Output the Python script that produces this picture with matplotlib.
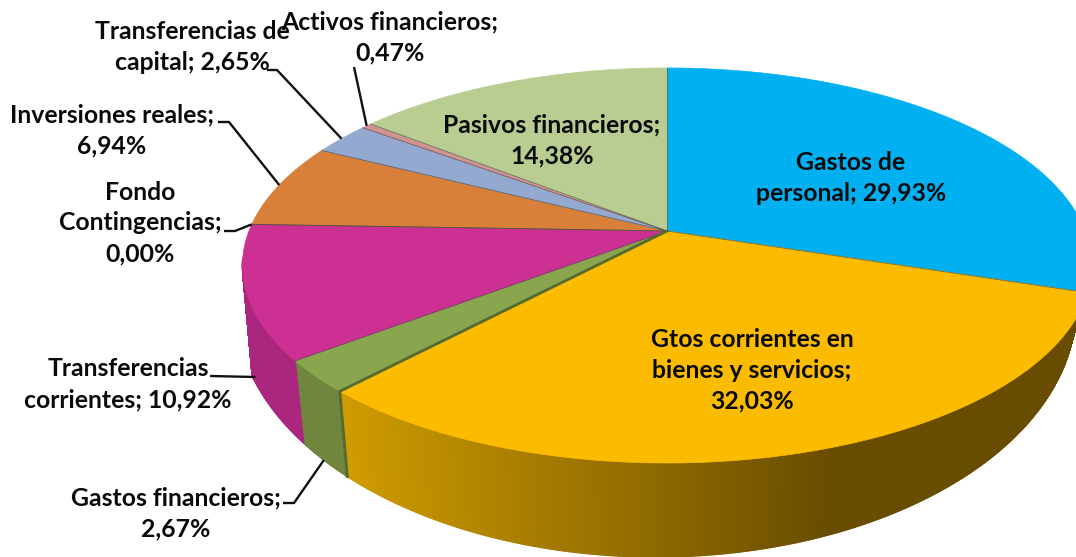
import numpy as np
import matplotlib
matplotlib.use('Agg')
import matplotlib.pyplot as plt
from matplotlib.collections import PolyCollection
from matplotlib.patches import Polygon

# clockwise from 12 o'clock
categories = ['Gastos de personal', 'Gtos corrientes en bienes y servicios', 'Gastos financieros',
              'Transferencias corrientes', 'Fondo Contingencias', 'Inversiones reales',
              'Transferencias de capital', 'Activos financieros', 'Pasivos financieros']
values = [29.93, 32.03, 2.67, 10.92, 0.00, 6.94, 2.65, 0.47, 14.38]
top_colors = ['#00b0f0', '#fbbc00', '#89a54e', '#cc3092', '#7f3f7f', '#d87f3a', '#93a9cf', '#d19392', '#b9cd92']
side_colors = ['#00789f', '#cc9900', '#70853e', '#ab267f', '#7f3f7f', '#a05f2a', '#6f80a0', '#a06f6f', '#8a9a6e']

label_lines = ['Gastos de\npersonal; 29,93%', 'Gtos corrientes en\nbienes y servicios;\n32,03%',
               'Gastos financieros;\n2,67%', 'Transferencias\ncorrientes; 10,92%',
               'Fondo\nContingencias;\n0,00%', 'Inversiones reales;\n6,94%',
               'Transferencias de\ncapital; 2,65%', 'Activos financieros;\n0,47%',
               'Pasivos financieros;\n14,38%']
label_x = [851, 752, 176, 128, 140, 112, 192, 390, 552]
label_y = [178, 370, 513, 384, 223, 130, 47, 37, 140]
# leader start points, and how far down the side wall the leader ends
leader_start = [None, None, [(283, 503), (294, 503)], [(210, 376)], [(224, 231), (235, 231)],
                [(218, 122), (229, 122)], [(267, 70), (277, 70)], [(354, 67)], None]
leader_depth = [0, 0, 1, 0.93, 0, 0, 0, 0, 0]

# pie geometry in pixels (perspective view of a disc)
CX, CY = 667, 231
A, B, K = 418, 191.5, 0.1746
# lower rim of the wall is its own ellipse
BOT_S = 0.977
BOT_CX, BOT_CY, BOT_RX, BOT_RY = 656, 307, 420, 250


def rim(deg):
    t = np.radians(deg)
    x, y = np.sin(t), np.cos(t)
    d = 1 + K * y
    return CX + A * x / d, CY - B * y / d


def rim_low(deg):
    x = CX + BOT_S * (rim(deg)[0] - CX)
    u = min(abs(x - BOT_CX) / BOT_RX, 1)
    return x, BOT_CY + BOT_RY * np.sqrt(1 - u ** 2)


def yellow_side(x):
    t = np.clip((x - 345) / (835 - 345), 0, 1)
    c0 = np.array([206, 155, 0]) / 255
    c1 = np.array([104, 76, 0]) / 255
    return c0 + (c1 - c0) * t


fig = plt.figure(figsize=(10.76, 5.57), dpi=100)
ax = fig.add_axes([0, 0, 1, 1])
ax.set_xlim(0, 1076)
ax.set_ylim(557, 0)
ax.axis('off')

edges = np.cumsum([0] + values) / sum(values) * 360

# side wall first, only the front part shows (left silhouette turns at about 260 deg)
for i in range(len(values)):
    if values[i] == 0:
        continue
    start = max(edges[i], 90)
    stop = min(edges[i + 1], 262)
    if stop <= start:
        continue
    steps = np.append(np.arange(start, stop, 0.25), stop)
    polys = []
    cols = []
    for a0, a1 in zip(steps[:-1], steps[1:]):
        polys.append([rim(a0), rim(a1), rim_low(a1), rim_low(a0)])
        if i == 1:
            cols.append(yellow_side(rim(a0)[0]))
        else:
            cols.append(side_colors[i])
    ax.add_collection(PolyCollection(polys, facecolors=cols, edgecolors=cols, linewidths=1.0, zorder=1))

# top face
for i in range(len(values)):
    if values[i] == 0:
        continue
    ang = np.linspace(edges[i], edges[i + 1], 120)
    pts = [(CX, CY)] + [rim(a) for a in ang]
    ax.add_patch(Polygon(pts, closed=True, facecolor=top_colors[i], edgecolor=top_colors[i], linewidth=0.5, zorder=2))

# thin darker lines between the slices
for i in range(len(values)):
    ax.plot(*zip((CX, CY), rim(edges[i])), color='#4a4a4a', lw=0.6, alpha=0.7, zorder=3)

# dark seam where the yellow slice meets the green one
seam = edges[2]
ax.plot(*zip((CX, CY), rim(seam), rim_low(seam)), color='#56692f', lw=2.0, zorder=3)

# leaders
for i in range(len(values)):
    if leader_start[i] is None:
        continue
    mid = (edges[i] + edges[i + 1]) / 2
    p0 = np.array(rim(mid))
    p1 = np.array(rim_low(mid))
    end = p0 + (p1 - p0) * leader_depth[i]
    xs = [p[0] for p in leader_start[i]] + [end[0]]
    ys = [p[1] for p in leader_start[i]] + [end[1]]
    ax.plot(xs, ys, color='#111111', lw=1.7, zorder=4, solid_capstyle='butt')

for i in range(len(values)):
    ax.text(label_x[i], label_y[i], label_lines[i], ha='center', va='center', family='Lato',
            fontweight='bold', fontsize=17.8, linespacing=1.42, color='#0a0a0a', zorder=5)

fig.savefig('out.png', dpi=100)
